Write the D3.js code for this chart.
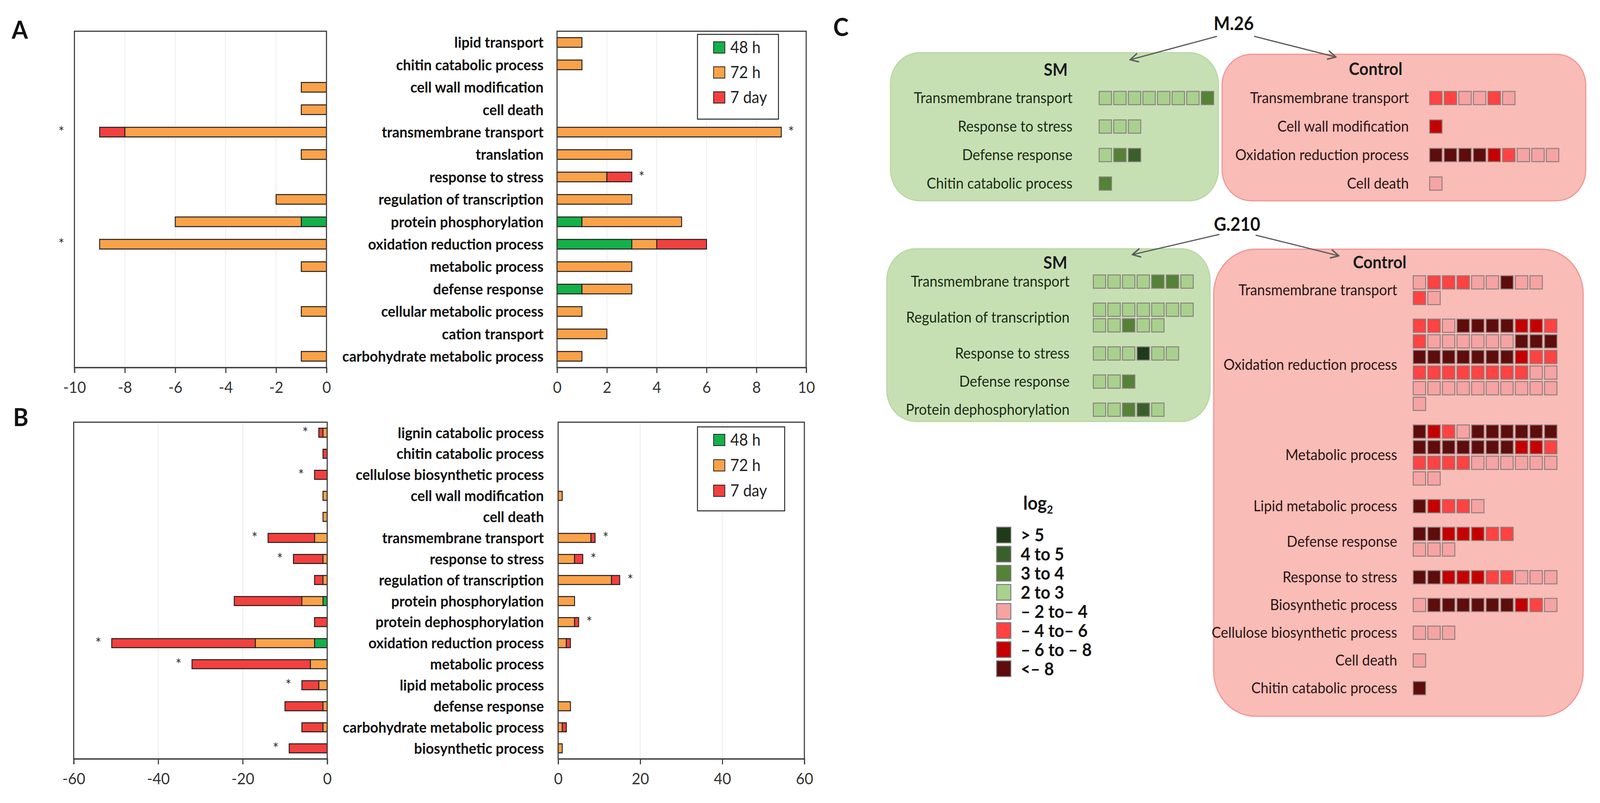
<!DOCTYPE html>
<html>
<head>
<meta charset="utf-8">
<script src="https://cdn.jsdelivr.net/npm/d3@7/dist/d3.min.js"></script>
<style>
  html, body { margin: 0; padding: 0; background: #fff; overflow: hidden; }
  #fig { display: block; width: 100vw; height: 100vh; }
  text { font-family: Lato, "Noto Sans", sans-serif; }
</style>
</head>
<body>
<svg id="fig" viewBox="0 0 4386 2056" preserveAspectRatio="none"></svg>
<script>
// ---------- data : panel A ----------
const catsA = ["lipid transport", "chitin catabolic process", "cell wall modification", "cell death",
  "transmembrane transport", "translation", "response to stress", "regulation of transcription",
  "protein phosphorylation", "oxidation reduction process", "metabolic process", "defense response",
  "cellular metabolic process", "cation transport", "carbohydrate metabolic process"];
const downA48 = [0, 0, 0, 0, 0, 0, 0, 0, 1, 0, 0, 0, 0, 0, 0];
const downA72 = [0, 0, 1, 1, 8, 1, 0, 2, 5, 9, 1, 0, 1, 0, 1];
const downA7d = [0, 0, 0, 0, 1, 0, 0, 0, 0, 0, 0, 0, 0, 0, 0];
const upA48 = [0, 0, 0, 0, 0, 0, 0, 0, 1, 3, 0, 1, 0, 0, 0];
const upA72 = [1, 1, 0, 0, 9, 3, 2, 3, 4, 1, 3, 2, 1, 2, 1];
const upA7d = [0, 0, 0, 0, 0, 0, 1, 0, 0, 2, 0, 0, 0, 0, 0];
const starsDownA = ["transmembrane transport", "oxidation reduction process"];
const starsUpA = ["transmembrane transport", "response to stress"];
const ticksDownA = [-10, -8, -6, -4, -2, 0];
const ticksUpA = [0, 2, 4, 6, 8, 10];

// ---------- data : panel B ----------
const catsB = ["lignin catabolic process", "chitin catabolic process", "cellulose biosynthetic process",
  "cell wall modification", "cell death", "transmembrane transport", "response to stress",
  "regulation of transcription", "protein phosphorylation", "protein dephosphorylation",
  "oxidation reduction process", "metabolic process", "lipid metabolic process", "defense response",
  "carbohydrate metabolic process", "biosynthetic process"];
const downB48 = [0, 0, 0, 0, 0, 0, 0, 0, 1, 0, 3, 0, 0, 0, 0, 0];
const downB72 = [1, 0, 0, 1, 1, 3, 1, 1, 5, 0, 14, 4, 2, 1, 1, 0];
const downB7d = [1, 1, 3, 0, 0, 11, 7, 2, 16, 3, 34, 28, 4, 9, 5, 9];
const upB48 = [0, 0, 0, 0, 0, 0, 0, 0, 0, 0, 0, 0, 0, 0, 0, 0];
const upB72 = [0, 0, 0, 1, 0, 8, 4, 13, 4, 4, 2, 0, 0, 3, 1, 1];
const upB7d = [0, 0, 0, 0, 0, 1, 2, 2, 0, 1, 1, 0, 0, 0, 1, 0];
const starsDownB = ["lignin catabolic process", "cellulose biosynthetic process", "transmembrane transport",
  "response to stress", "oxidation reduction process", "metabolic process", "lipid metabolic process",
  "biosynthetic process"];
const starsUpB = ["transmembrane transport", "response to stress", "regulation of transcription",
  "protein dephosphorylation"];
const ticksDownB = [-60, -40, -20, 0];
const ticksUpB = [0, 20, 40, 60];

const seriesNames = ["48 h", "72 h", "7 day"];
const seriesColors = ["#14b04a", "#faa24a", "#f2403f"];

// ---------- data : panel C ----------
const levelKeys = ["g5", "g4", "g3", "g2", "r2", "r4", "r6", "r8"];
const levelLabels = ["> 5", "4 to 5", "3 to 4", "2 to 3", "– 2 to– 4", "– 4 to– 6", "– 6 to – 8", "<– 8"];
const levelColors = ["#1f3a18", "#39602b", "#548236", "#a8d18d", "#f6a3a3", "#ff4242", "#c50000", "#5e0c0c"];

const m26SmTerms = ["Transmembrane transport", "Response to stress", "Defense response", "Chitin catabolic process"];
const m26SmLevels = [
  ["g2", "g2", "g2", "g2", "g2", "g2", "g2", "g3"],
  ["g2", "g2", "g2"],
  ["g2", "g3", "g4"],
  ["g3"]];

const m26CtTerms = ["Transmembrane transport", "Cell wall modification", "Oxidation reduction process", "Cell death"];
const m26CtLevels = [
  ["r4", "r4", "r2", "r2", "r4", "r2"],
  ["r6"],
  ["r8", "r8", "r8", "r8", "r6", "r4", "r2", "r2", "r2"],
  ["r2"]];

const g210SmTerms = ["Transmembrane transport", "Regulation of transcription", "Response to stress",
  "Defense response", "Protein dephosphorylation"];
const g210SmLevels = [
  ["g2", "g2", "g2", "g2", "g3", "g3", "g2"],
  ["g2", "g2", "g2", "g2", "g2", "g2", "g2", "g2", "g2", "g3", "g2", "g2"],
  ["g2", "g2", "g2", "g5", "g2", "g2"],
  ["g2", "g2", "g3"],
  ["g2", "g2", "g3", "g4", "g2"]];

const g210CtTerms = ["Transmembrane transport", "Oxidation reduction process", "Metabolic process",
  "Lipid metabolic process", "Defense response", "Response to stress", "Biosynthetic process",
  "Cellulose biosynthetic process", "Cell death", "Chitin catabolic process"];
const g210CtLevels = [
  ["r2", "r4", "r4", "r4", "r2", "r2", "r8", "r2", "r2", "r4", "r2"],
  ["r4", "r4", "r2", "r8", "r8", "r8", "r8", "r6", "r6", "r4",
   "r4", "r2", "r2", "r2", "r2", "r2", "r2", "r8", "r8", "r8",
   "r8", "r8", "r8", "r8", "r8", "r8", "r8", "r6", "r4", "r4",
   "r4", "r4", "r4", "r4", "r4", "r4", "r4", "r4", "r2", "r2",
   "r2", "r2", "r2", "r2", "r2", "r2", "r2", "r2", "r2", "r2",
   "r2"],
  ["r8", "r6", "r4", "r2", "r8", "r8", "r8", "r8", "r8", "r8",
   "r8", "r8", "r8", "r8", "r8", "r8", "r8", "r6", "r6", "r4",
   "r4", "r4", "r4", "r4", "r2", "r2", "r2", "r2", "r2", "r2",
   "r2", "r2"],
  ["r8", "r6", "r4", "r4", "r2"],
  ["r8", "r8", "r6", "r6", "r6", "r4", "r4", "r2", "r2", "r2"],
  ["r8", "r8", "r6", "r6", "r6", "r4", "r4", "r2", "r2", "r2"],
  ["r2", "r8", "r8", "r8", "r8", "r8", "r8", "r6", "r4", "r2"],
  ["r2", "r2", "r2"],
  ["r2"],
  ["r8"]];

// ---------- drawing ----------
const svg = d3.select("#fig");
const levelColor = d3.scaleOrdinal().domain(levelKeys).range(levelColors);
const seriesColor = d3.scaleOrdinal().domain(seriesNames).range(seriesColors);

// horizontal stacked bar panel
function barPanel(o) {
  const g = svg.append("g");
  const sign = o.neg ? -1 : 1;
  const x = d3.scaleLinear().domain(o.neg ? [o.ticks[0], 0] : [0, o.ticks[o.ticks.length - 1]]).range([o.x0, o.x1]);
  const y = d3.scaleBand().domain(o.cats).range([o.top, o.bottom]).paddingInner(0.57).paddingOuter(0.285);

  // light grid
  g.selectAll(".grid").data(o.ticks.slice(1, -1)).enter().append("line")
    .attr("x1", d => x(d)).attr("x2", d => x(d)).attr("y1", o.top).attr("y2", o.bottom)
    .attr("stroke", "#ebebeb").attr("stroke-width", 2);

  const rows = o.cats.map((c, i) => ({ cat: c, "48 h": o.s[0][i], "72 h": o.s[1][i], "7 day": o.s[2][i] }));
  const stacked = d3.stack().keys(seriesNames)(rows);

  g.selectAll(".layer").data(stacked).enter().append("g")
    .attr("fill", d => seriesColor(d.key))
    .selectAll("rect").data(d => d.filter(v => v[1] - v[0] > 0)).enter().append("rect")
    .attr("x", d => Math.min(x(sign * d[0]), x(sign * d[1])))
    .attr("width", d => Math.abs(x(sign * d[1]) - x(sign * d[0])))
    .attr("y", d => y(d.data.cat))
    .attr("height", y.bandwidth())
    .attr("stroke", "#1e1e1e").attr("stroke-width", 2.5);

  // significance stars
  const totals = new Map(rows.map(r => [r.cat, r["48 h"] + r["72 h"] + r["7 day"]]));
  g.selectAll(".star").data(o.stars).enter().append("text")
    .attr("x", d => x(sign * totals.get(d)) + sign * o.starOff)
    .attr("y", d => y(d) + y.bandwidth() / 2 + 14)
    .attr("text-anchor", "middle").attr("font-size", 38).attr("fill", "#333")
    .text("*");

  // frame
  g.append("rect").attr("x", o.x0).attr("y", o.top).attr("width", o.x1 - o.x0).attr("height", o.bottom - o.top)
    .attr("fill", "none").attr("stroke", "#3c3c3c").attr("stroke-width", 3);

  const ax = g.append("g").attr("transform", `translate(0,${o.bottom})`)
    .call(d3.axisBottom(x).tickValues(o.ticks).tickSize(14).tickPadding(22).tickFormat(d => String(d)));
  ax.select(".domain").attr("stroke", "#3c3c3c").attr("stroke-width", 3);
  ax.selectAll(".tick line").attr("stroke", "#3c3c3c").attr("stroke-width", 3);
  ax.selectAll(".tick text").attr("font-size", 41).attr("fill", "#333").attr("font-family", "Lato, sans-serif");
  return y;
}

function categoryLabels(cats, y, xr) {
  svg.append("g").selectAll("text").data(cats).enter().append("text")
    .attr("x", xr).attr("y", d => y(d) + y.bandwidth() / 2)
    .attr("dy", "0.35em").attr("text-anchor", "end")
    .attr("font-size", 39).attr("font-weight", "bold").attr("fill", "#111")
    .text(d => d);
}

function barLegend(lx, ly, w, h, pitch) {
  const g = svg.append("g");
  g.append("rect").attr("x", lx).attr("y", ly).attr("width", w).attr("height", h)
    .attr("fill", "#fff").attr("stroke", "#222").attr("stroke-width", 2.5);
  const it = g.selectAll(".it").data(seriesNames).enter().append("g")
    .attr("transform", (d, i) => `translate(${lx + 44},${ly + 33 + i * pitch})`);
  it.append("rect").attr("x", 0).attr("y", -14).attr("width", 31).attr("height", 29)
    .attr("fill", d => seriesColor(d)).attr("stroke", "#222").attr("stroke-width", 2);
  it.append("text").attr("x", 46).attr("y", 0).attr("dy", "0.36em")
    .attr("font-size", 42).attr("fill", "#222").text(d => d);
}

const yA = barPanel({ cats: catsA, s: [downA48, downA72, downA7d], neg: true, ticks: ticksDownA,
  x0: 204, x1: 895, top: 80, bottom: 941, stars: starsDownA, starOff: 105 });
barPanel({ cats: catsA, s: [upA48, upA72, upA7d], neg: false, ticks: ticksUpA,
  x0: 1527, x1: 2210, top: 80, bottom: 941, stars: starsUpA, starOff: 27 });
categoryLabels(catsA, yA, 1490);
barLegend(1912, 88, 222, 217, 64);

const yB = barPanel({ cats: catsB, s: [downB48, downB72, downB7d], neg: true, ticks: ticksDownB,
  x0: 202, x1: 897, top: 1081, bottom: 1943, stars: starsDownB, starOff: 37 });
barPanel({ cats: catsB, s: [upB48, upB72, upB7d], neg: false, ticks: ticksUpB,
  x0: 1530, x1: 2205, top: 1081, bottom: 1943, stars: starsUpB, starOff: 29 });
categoryLabels(catsB, yB, 1491);
barLegend(1912, 1093, 239, 215, 65);

// panel letters
[["A", 32, 99], ["B", 36, 1091], ["C", 2284, 92]].forEach(([t, px, py]) =>
  svg.append("text").attr("x", px).attr("y", py).attr("font-size", 64).attr("font-weight", "bold")
    .attr("font-family", "'Liberation Sans', Arial, sans-serif").attr("fill", "#111").text(t));

// ---------- panel C ----------
const PITCH = 40, SQ = 34;

function termBox(b, terms, levels) {
  const g = svg.append("g");
  g.append("rect").attr("x", b.x).attr("y", b.y).attr("width", b.w).attr("height", b.h)
    .attr("rx", b.rx).attr("ry", b.rx).attr("fill", b.fill).attr("stroke", b.stroke).attr("stroke-width", 3);
  g.append("text").attr("x", b.tx).attr("y", b.ty).attr("dy", "0.35em").attr("text-anchor", "middle")
    .attr("font-size", 44).attr("font-weight", "bold").attr("fill", "#1a1a1a").text(b.title);

  const col = d3.scaleLinear().domain([0, 1]).range([b.sqX, b.sqX + PITCH]);
  let cursor = b.firstRow;
  terms.forEach((t, i) => {
    const wrap = b.wrap[i] || 10;
    const n = levels[i].length;
    const nRows = Math.ceil(n / wrap);
    const row = d3.scaleLinear().domain([0, 1]).range([cursor, cursor + PITCH]);
    g.append("text").attr("x", b.labelX).attr("y", cursor + (nRows - 1) * PITCH / 2).attr("dy", "0.35em")
      .attr("text-anchor", "end").attr("font-size", 38.5).attr("fill", b.ink).text(t);
    g.selectAll(null).data(levels[i]).enter().append("rect")
      .attr("x", (d, j) => col(j % wrap))
      .attr("y", (d, j) => row(Math.floor(j / wrap)) - SQ / 2)
      .attr("width", SQ).attr("height", SQ)
      .attr("fill", d => levelColor(d)).attr("stroke", "#8a7f7f").attr("stroke-width", 2.5);
    cursor += (nRows - 1) * PITCH + b.step;
  });
}

const green = { fill: "#c6e0b4", stroke: "#b7d7a2", ink: "#1d2b16" };
const pink = { fill: "#f9bcb6", stroke: "#f19494", ink: "#2a1616" };

termBox(Object.assign({ x: 2441, y: 135, w: 899, h: 379, rx: 80, title: "SM", tx: 2894, ty: 179,
  labelX: 2940, sqX: 3013, firstRow: 251, step: 73, wrap: [] }, green), m26SmTerms, m26SmLevels);
termBox(Object.assign({ x: 3350, y: 139, w: 997, h: 375, rx: 80, title: "Control", tx: 3771, ty: 177,
  labelX: 3862, sqX: 3919, firstRow: 251, step: 73, wrap: [] }, pink), m26CtTerms, m26CtLevels);
termBox(Object.assign({ x: 2431, y: 637, w: 886, h: 442, rx: 80, title: "SM", tx: 2893, ty: 673,
  labelX: 2932, sqX: 2997, firstRow: 721, step: 72, wrap: [7, 7, 7, 7, 7] }, green), g210SmTerms, g210SmLevels);
termBox(Object.assign({ x: 3327, y: 638, w: 1013, h: 1196, rx: 115, title: "Control", tx: 3782, ty: 672,
  labelX: 3830, sqX: 3874, firstRow: 723, step: 71, wrap: [9, 10, 10, 10, 7, 10, 10, 10, 10, 10] }, pink),
  g210CtTerms, g210CtLevels);

// genotype labels and arrows
const defs = svg.append("defs");
defs.append("marker").attr("id", "arr").attr("viewBox", "0 0 12 12").attr("refX", 11).attr("refY", 6)
  .attr("markerWidth", 9).attr("markerHeight", 9).attr("orient", "auto")
  .append("path").attr("d", "M1,1 L11,6 L1,11").attr("fill", "none").attr("stroke", "#5a5a5a").attr("stroke-width", 1.6);

const genotypes = [
  { name: "M.26", x: 3382, y: 61, arrows: [[3336, 93, 3098, 153], [3438, 93, 3662, 146]] },
  { name: "G.210", x: 3391, y: 575, arrows: [[3343, 600, 3104, 652], [3442, 602, 3670, 655]] }];
genotypes.forEach(gt => {
  svg.append("text").attr("x", gt.x).attr("y", gt.y).attr("dy", "0.35em").attr("text-anchor", "middle")
    .attr("font-size", 47).attr("font-weight", "bold").attr("fill", "#111").text(gt.name);
  gt.arrows.forEach(a => svg.append("line").attr("x1", a[0]).attr("y1", a[1]).attr("x2", a[2]).attr("y2", a[3])
    .attr("stroke", "#5a5a5a").attr("stroke-width", 3).attr("marker-end", "url(#arr)"));
});

// log2 legend
const lg = svg.append("g");
const lt = lg.append("text").attr("x", 2805).attr("y", 1305).attr("font-size", 48).attr("font-weight", "bold").attr("fill", "#111");
lt.append("tspan").text("log");
lt.append("tspan").attr("font-size", 29).attr("dy", 10).text("2");
const ly = d3.scaleBand().domain(levelKeys).range([1341, 1741]).padding(0.18);
lg.selectAll("rect").data(levelKeys).enter().append("rect")
  .attr("x", 2732).attr("y", d => ly(d)).attr("width", 39).attr("height", ly.bandwidth())
  .attr("fill", d => levelColor(d)).attr("stroke", "#7a7a7a").attr("stroke-width", 2.5);
lg.selectAll(".lab").data(levelKeys).enter().append("text")
  .attr("x", 2798).attr("y", d => ly(d) + ly.bandwidth() / 2).attr("dy", "0.36em")
  .attr("font-size", 46).attr("font-weight", "bold").attr("fill", "#111")
  .text((d, i) => levelLabels[i]);
</script>
</body>
</html>
